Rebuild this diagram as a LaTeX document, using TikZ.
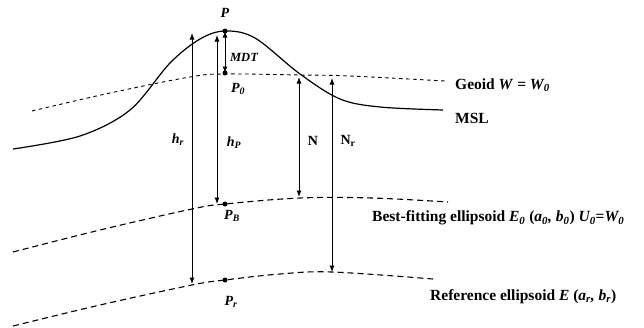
\documentclass[tikz,border=0pt]{standalone}
\usepackage{fontspec}
\setmainfont{Liberation Serif}
\usetikzlibrary{arrows.meta}
\begin{document}
\begin{tikzpicture}[x=1pt,y=-1pt,
  surf/.style={line width=1.2pt},
  geoidline/.style={line width=0.9pt, dash pattern=on 3.5pt off 3.5pt},
  ellline/.style={line width=1.1pt, dash pattern=on 6pt off 4pt},
  meas/.style={line width=0.9pt, {Latex[length=6.5pt,width=5pt]}-{Latex[length=6.5pt,width=5pt]}},
  pt/.style={circle, fill=black, inner sep=0pt, minimum size=5pt},
  lbl/.style={font=\bfseries\itshape\fontsize{14}{16}\selectfont, inner sep=1pt},
  txt/.style={font=\bfseries\fontsize{15.5}{18}\selectfont, anchor=west, inner sep=0pt}]
\useasboundingbox (0,0) rectangle (644,327);
% surfaces
\draw[surf] plot[smooth, tension=0.55] coordinates {(13,149) (80,136) (130,110) (170,63) (200,39) (225,31) (255,38) (300,74) (340,99) (380,107) (443,110)};
\draw[geoidline] plot[smooth, tension=0.6] coordinates {(32,111) (110,93) (190,77) (225,74) (300,75) (350,76) (445,81)};
\draw[ellline] plot[smooth, tension=0.6] coordinates {(13,252) (100,230) (192,209) (225,204) (300,198) (372,198) (448,202)};
\draw[ellline] plot[smooth, tension=0.6] coordinates {(13,326) (100,305) (192,285) (225,280) (280,274) (332,272) (433,279)};
% points
\node[pt] (P) at (225,31) {};
\node[pt] (P0) at (225,73) {};
\node[pt] (PB) at (225,204) {};
\node[pt] (Pr) at (225,280) {};
% free ends
\coordinate (hrT) at (192,33);
\coordinate (hrB) at (192,284);
\coordinate (hpT) at (217,35);
\coordinate (hpB) at (217,204);
\coordinate (NT) at (299,77);
\coordinate (NB) at (299,197);
\coordinate (NrT) at (332,78);
\coordinate (NrB) at (332,272);
% measurements
\draw[meas] (hrT) -- (hrB);
\draw[meas] (hpT) -- (hpB);
\draw[meas] (P.center) -- (P0.center);
\draw[meas] (NT) -- (NB);
\draw[meas] (NrT) -- (NrB);
% labels
\node[lbl] (lP) at (225,13) {P};
\node[lbl] (lP0) at (238,89) {P\textsubscript{\itshape 0}};
\node[lbl] (lPB) at (232,216) {P\textsubscript{\itshape B}};
\node[lbl] (lPr) at (231,302) {P\textsubscript{\itshape r}};
\node[lbl, font=\bfseries\itshape\fontsize{12.5}{14}\selectfont] (lMDT) at (244,57) {MDT};
\node[lbl] (lhr) at (178,140) {h\textsubscript{\itshape r}};
\node[lbl] (lhp) at (234,143) {h\textsubscript{\itshape P}};
\node[lbl, font=\bfseries\fontsize{14}{16}\selectfont] (lN) at (313,141) {N};
\node[lbl, font=\bfseries\fontsize{14}{16}\selectfont] (lNr) at (348,141) {N\textsubscript{r}};
\node[txt] (tG) at (455,85) {Geoid \textit{W} = \textit{W\textsubscript{0}}};
\node[txt] (tM) at (455,118) {MSL};
\node[txt] (tB) at (372,218) {Best-fitting ellipsoid \textit{E\textsubscript{0}} (\textit{a\textsubscript{0}, b\textsubscript{0}}) \textit{U\textsubscript{0}}=\textit{W\textsubscript{0}}};
\node[txt] (tR) at (430,297) {Reference ellipsoid \textit{E} (\textit{a\textsubscript{r}, b\textsubscript{r}})};
\end{tikzpicture}
\end{document}
